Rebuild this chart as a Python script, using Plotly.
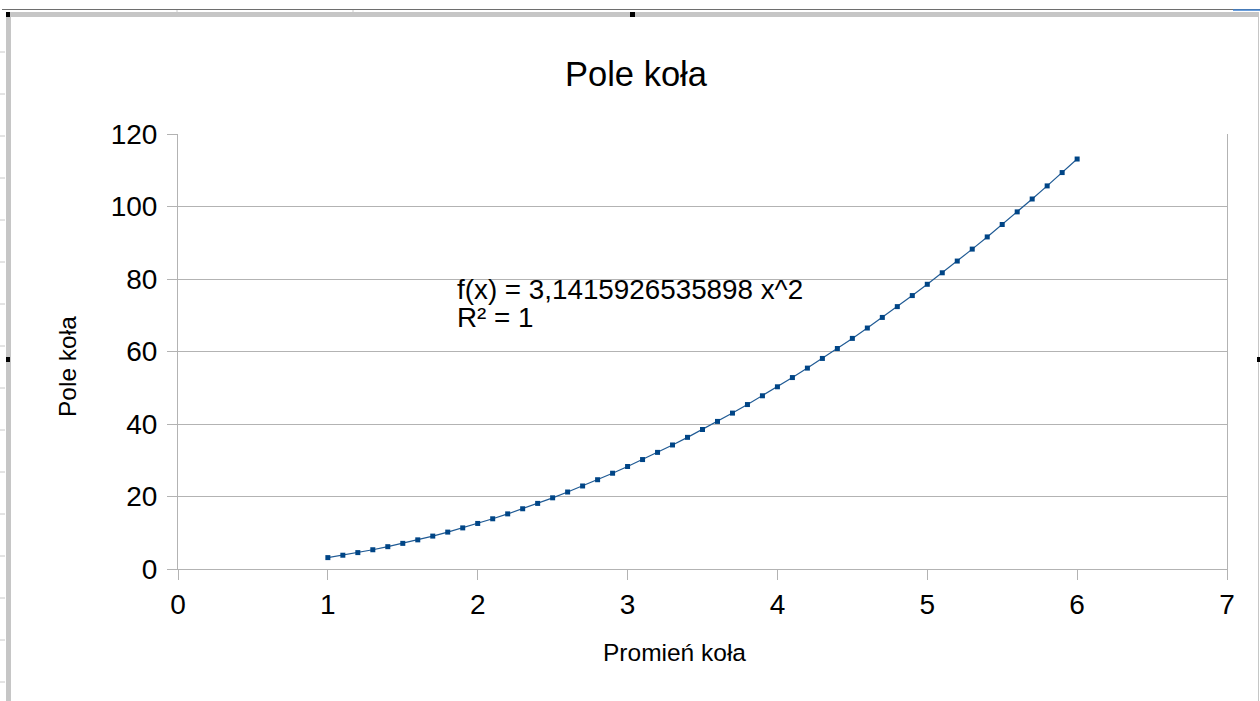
import plotly.graph_objects as go

# data
radius = [1.0, 1.1, 1.2, 1.3, 1.4, 1.5, 1.6, 1.7, 1.8, 1.9,
          2.0, 2.1, 2.2, 2.3, 2.4, 2.5, 2.6, 2.7, 2.8, 2.9,
          3.0, 3.1, 3.2, 3.3, 3.4, 3.5, 3.6, 3.7, 3.8, 3.9,
          4.0, 4.1, 4.2, 4.3, 4.4, 4.5, 4.6, 4.7, 4.8, 4.9,
          5.0, 5.1, 5.2, 5.3, 5.4, 5.5, 5.6, 5.7, 5.8, 5.9, 6.0]
area = [3.142, 3.801, 4.524, 5.309, 6.158, 7.069, 8.042, 9.079, 10.179, 11.341,
        12.566, 13.854, 15.205, 16.619, 18.096, 19.635, 21.237, 22.902, 24.630, 26.421,
        28.274, 30.191, 32.170, 34.212, 36.317, 38.485, 40.715, 43.008, 45.365, 47.784,
        50.265, 52.810, 55.418, 58.088, 60.821, 63.617, 66.476, 69.398, 72.382, 75.430,
        78.540, 81.713, 84.949, 88.247, 91.609, 95.033, 98.520, 102.070, 105.683, 109.359, 113.097]
x_ticks = [0, 1, 2, 3, 4, 5, 6, 7]
y_ticks = [0, 20, 40, 60, 80, 100, 120]

title_text = "Pole koła"
x_title = "Promień koła"
y_title = "Pole koła"
trend_line1 = "f(x) = 3,1415926535898 x^2"
trend_line2 = "R² = 1"

W, H = 1260, 701
ML, MR, MT, MB = 178, 33, 134, 132
PW, PH = W - ML - MR, H - MT - MB

def px(x):
    return (x - ML) / PW

def py(y):
    return 1 - (y - MT) / PH

FONT = "Liberation Sans, Arial, sans-serif"
GRID = "#b3b3b3"
BLUE = "#004586"

fig = go.Figure()
fig.add_trace(go.Scatter(
    x=radius, y=area, mode="lines+markers",
    line=dict(color="#1f5a94", width=1.2),
    marker=dict(symbol="square", size=5, color=BLUE),
    showlegend=False, hoverinfo="x+y",
))

axis_common = dict(
    showline=True, linecolor=GRID, linewidth=1,
    ticks="outside", ticklen=10, tickcolor=GRID, tickwidth=1,
    zeroline=False, tickfont=dict(family=FONT, size=28, color="#000000"),
)

fig.update_xaxes(range=[0, 7], tickvals=x_ticks, showgrid=False, **axis_common)
fig.update_yaxes(range=[0, 120], tickvals=y_ticks, showgrid=True, gridcolor=GRID,
                 gridwidth=1, mirror=True, ticklabelstandoff=4, **axis_common)

annotations = [
    dict(text=title_text, x=px(636), y=py(74), xref="paper", yref="paper",
         showarrow=False, font=dict(family=FONT, size=34.5, color="#000000"),
         xanchor="center", yanchor="middle"),
    dict(text=x_title, x=px(674), y=py(652), xref="paper", yref="paper",
         showarrow=False, font=dict(family=FONT, size=24.5, color="#000000"),
         xanchor="center", yanchor="middle"),
    dict(text=y_title, x=px(67), y=py(367), xref="paper", yref="paper",
         showarrow=False, textangle=-90, font=dict(family=FONT, size=24.5, color="#000000"),
         xanchor="center", yanchor="middle"),
    dict(text=trend_line1, x=px(455), y=py(289), xref="paper", yref="paper",
         showarrow=False, align="left", font=dict(family=FONT, size=27.8, color="#000000"),
         xanchor="left", yanchor="middle"),
    dict(text=trend_line2, x=px(455), y=py(317), xref="paper", yref="paper",
         showarrow=False, align="left", font=dict(family=FONT, size=27.8, color="#000000"),
         xanchor="left", yanchor="middle"),
]

# spreadsheet chrome around the chart object
shapes = [
    dict(type="line", x0=px(2), x1=px(1260), y0=py(9.5), y1=py(9.5), xref="paper", yref="paper",
         line=dict(color="#6e6e6e", width=1)),
    dict(type="rect", x0=px(6), x1=px(1258), y0=py(12), y1=py(17), xref="paper", yref="paper",
         line=dict(width=0), fillcolor="#c6c6c6"),
    dict(type="rect", x0=px(6), x1=px(11), y0=py(12), y1=py(701), xref="paper", yref="paper",
         line=dict(width=0), fillcolor="#c6c6c6"),
    dict(type="line", x0=px(1258.5), x1=px(1258.5), y0=py(12), y1=py(701), xref="paper", yref="paper",
         line=dict(color="#c6c6c6", width=1)),
    dict(type="line", x0=px(1233), x1=px(1260), y0=py(10), y1=py(10), xref="paper", yref="paper",
         line=dict(color="#3a7fd0", width=1.5)),
    dict(type="rect", x0=px(6), x1=px(10), y0=py(12), y1=py(17), xref="paper", yref="paper",
         line=dict(width=0), fillcolor="#000000"),
    dict(type="rect", x0=px(630), x1=px(635), y0=py(12), y1=py(17), xref="paper", yref="paper",
         line=dict(width=0), fillcolor="#000000"),
    dict(type="rect", x0=px(6), x1=px(10), y0=py(357), y1=py(362), xref="paper", yref="paper",
         line=dict(width=0), fillcolor="#000000"),
    dict(type="rect", x0=px(1257), x1=px(1260), y0=py(357), y1=py(362), xref="paper", yref="paper",
         line=dict(width=0), fillcolor="#000000"),
]
for yy in [52, 94, 136, 178, 220, 262, 304, 346, 388, 430, 472, 514, 556, 598, 640, 682]:
    shapes.append(dict(type="line", x0=px(0), x1=px(5), y0=py(yy), y1=py(yy),
                       xref="paper", yref="paper", line=dict(color="#c8c8c8", width=1)))
for xx in [177, 353]:
    shapes.append(dict(type="line", x0=px(xx), x1=px(xx), y0=py(10), y1=py(12),
                       xref="paper", yref="paper", line=dict(color="#c8c8c8", width=1)))

fig.update_layout(
    width=W, height=H,
    margin=dict(l=ML, r=MR, t=MT, b=MB),
    paper_bgcolor="#ffffff", plot_bgcolor="#ffffff",
    annotations=annotations, shapes=shapes,
    font=dict(family=FONT, color="#000000"),
)

fig.write_html("out.html", config={"displayModeBar": False},
               post_script="document.body.style.margin='0';document.body.style.overflow='hidden';")
